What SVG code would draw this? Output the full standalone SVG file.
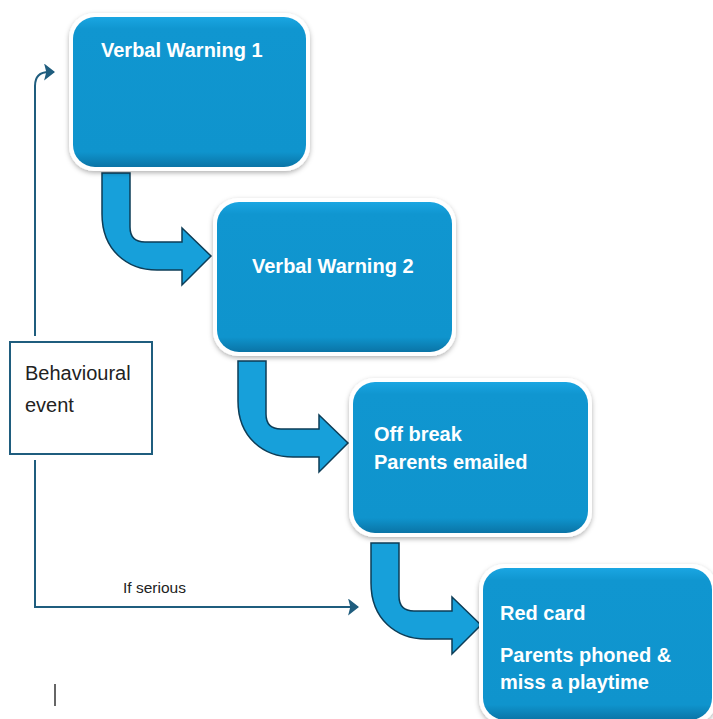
<svg xmlns="http://www.w3.org/2000/svg" width="713" height="719" viewBox="0 0 713 719">
  <defs>
    <linearGradient id="blue" x1="0" y1="0" x2="0" y2="1">
      <stop offset="0" stop-color="#1aa6e2"/>
      <stop offset="0.08" stop-color="#1096d0"/>
      <stop offset="0.9" stop-color="#0f94cd"/>
      <stop offset="1" stop-color="#0a74a6"/>
    </linearGradient>
    <filter id="shadow" x="-10%" y="-10%" width="120%" height="125%">
      <feDropShadow dx="0" dy="2" stdDeviation="2.5" flood-color="#000" flood-opacity="0.3"/>
    </filter>
    <marker id="ah" viewBox="0 0 10 10" refX="9" refY="5" markerWidth="5.5" markerHeight="8" markerUnits="userSpaceOnUse" orient="auto" preserveAspectRatio="none">
      <path d="M0,0 L10,5 L0,10 Z" fill="#1f5d7e"/>
    </marker>
    <marker id="ah2" viewBox="0 0 10 10" refX="9" refY="5" markerWidth="11" markerHeight="17" markerUnits="userSpaceOnUse" orient="auto" preserveAspectRatio="none">
      <path d="M0,0 L10,5 L0,10 L2,5 Z" fill="#1f5d7e"/>
    </marker>
  </defs>
  <style>
    .frame { fill: #ffffff; filter: url(#shadow); }
    .box { fill: url(#blue); }
    .lbl { font-family: "Liberation Sans", Arial, sans-serif; font-weight: bold; font-size: 20px; fill: #ffffff; }
    .bend { fill: #17a0da; stroke: #0d3d57; stroke-width: 1.5; stroke-linejoin: miter; }
    .conn { fill: none; stroke: #1f5d7e; stroke-width: 2; }
    .plain { font-family: "Liberation Sans", Arial, sans-serif; fill: #222222; }
  </style>

  <g id="connectors">
    <path class="bend" d="M102,173 H130 V227 Q130,242 145,242 H182 V228 L211,256 L182,285 V270 H157 C127,270 102,250 102,214 Z"/>
    <path class="bend" d="M238,361 H266 V414 Q266,429 281,429 H319 V415 L348,443 L319,472 V457 H293 C263,457 238,437 238,401 Z"/>
    <path class="bend" d="M371,543 H399 V596 Q399,611 414,611 H452 V597 L481,625 L452,654 V639 H426 C396,639 371,619 371,583 Z"/>
    <path class="conn" d="M35,336 V86 Q35,72 49,72 H54" marker-end="url(#ah2)"/>
    <path class="conn" d="M35,460 V607 H358" marker-end="url(#ah2)"/>
    <text class="plain" x="123" y="593" font-size="15.5">If serious</text>
  </g>

  <g id="node-behavioural">
    <rect x="10" y="342" width="142" height="112" fill="#ffffff" stroke="#1f5d7e" stroke-width="2"/>
    <text class="plain" x="25" y="380" font-size="20">Behavioural</text>
    <text class="plain" x="25" y="412" font-size="20">event</text>
  </g>

  <g id="node-warning1">
    <rect class="frame" x="69" y="13" width="241" height="158" rx="25"/>
    <rect class="box" x="73" y="17" width="233" height="150" rx="22"/>
    <text class="lbl" x="101" y="57">Verbal Warning 1</text>
  </g>

  <g id="node-warning2">
    <rect class="frame" x="213" y="198" width="243" height="158" rx="25"/>
    <rect class="box" x="217" y="202" width="235" height="150" rx="22"/>
    <text class="lbl" x="252" y="273">Verbal Warning 2</text>
  </g>

  <g id="node-offbreak">
    <rect class="frame" x="349" y="378" width="243" height="159" rx="25"/>
    <rect class="box" x="353" y="382" width="235" height="151" rx="22"/>
    <text class="lbl" x="374" y="441">Off break</text>
    <text class="lbl" x="374" y="469">Parents emailed</text>
  </g>

  <g id="node-redcard">
    <rect class="frame" x="479" y="564" width="238" height="160" rx="25"/>
    <rect class="box" x="483" y="568" width="229" height="152" rx="22"/>
    <text class="lbl" x="500" y="620">Red card</text>
    <text class="lbl" x="500" y="662">Parents phoned &amp;</text>
    <text class="lbl" x="500" y="689">miss a playtime</text>
  </g>

  <line x1="55" y1="684" x2="55" y2="706" stroke="#333333" stroke-width="1.5"/>
</svg>
